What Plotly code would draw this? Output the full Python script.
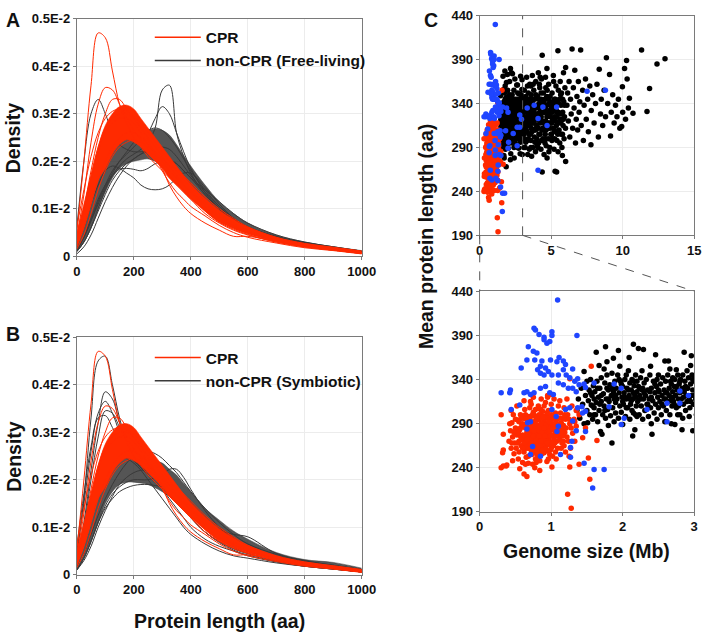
import plotly.graph_objects as go

# ---------------- Panels A & B : protein length density curves ----------------
# protein length grid (aa); densities below are in units of 1E-2
length_aa = [0, 25, 50, 75, 100, 125, 150, 175, 200, 225, 250, 275, 300, 325, 350,
             375, 400, 450, 500, 550, 600, 700, 800, 900, 1000]

# CPR genomes (same in A and B): core band (min / max) and individual curves
cpr_band_low = [0.02, 0.06, 0.11, 0.16, 0.185, 0.215, 0.235, 0.245, 0.24, 0.23, 0.215, 0.2, 0.185, 0.165, 0.15,
                0.135, 0.12, 0.095, 0.072, 0.058, 0.047, 0.031, 0.02, 0.013, 0.006]
cpr_band_high = [0.05, 0.11, 0.17, 0.23, 0.275, 0.3, 0.315, 0.318, 0.31, 0.29, 0.27, 0.25, 0.23, 0.21, 0.19,
                 0.17, 0.152, 0.122, 0.097, 0.078, 0.062, 0.04, 0.027, 0.019, 0.011]
cpr_curve_1 = [0.05, 0.2, 0.36, 0.47, 0.46, 0.39, 0.32, 0.28, 0.25, 0.23, 0.21, 0.195, 0.18, 0.165, 0.15,
               0.135, 0.12, 0.09, 0.07, 0.055, 0.045, 0.03, 0.02, 0.013, 0.006]
cpr_curve_2 = [0.04, 0.13, 0.24, 0.32, 0.355, 0.35, 0.32, 0.29, 0.265, 0.245, 0.225, 0.205, 0.19, 0.17, 0.155,
               0.14, 0.125, 0.095, 0.072, 0.057, 0.046, 0.03, 0.02, 0.013, 0.006]
cpr_curve_3 = [0.035, 0.1, 0.18, 0.25, 0.3, 0.33, 0.33, 0.31, 0.29, 0.27, 0.25, 0.23, 0.21, 0.19, 0.17,
               0.155, 0.14, 0.11, 0.085, 0.065, 0.05, 0.033, 0.022, 0.015, 0.008]
cpr_curve_4 = [0.04, 0.1, 0.17, 0.23, 0.27, 0.29, 0.3, 0.3, 0.29, 0.27, 0.245, 0.215, 0.185, 0.15, 0.125,
               0.105, 0.09, 0.07, 0.055, 0.042, 0.042, 0.032, 0.02, 0.013, 0.006]
cpr_curve_5 = [0.03, 0.09, 0.16, 0.22, 0.26, 0.28, 0.29, 0.29, 0.28, 0.26, 0.235, 0.21, 0.18, 0.155, 0.135,
               0.12, 0.105, 0.085, 0.065, 0.05, 0.04, 0.028, 0.018, 0.012, 0.005]
cpr_curve_6 = [0.02, 0.06, 0.11, 0.16, 0.2, 0.23, 0.25, 0.26, 0.26, 0.25, 0.235, 0.22, 0.205, 0.19, 0.185,
               0.17, 0.155, 0.125, 0.1, 0.08, 0.062, 0.04, 0.027, 0.019, 0.011]
cpr_curve_7 = [0.06, 0.14, 0.21, 0.26, 0.29, 0.305, 0.31, 0.305, 0.295, 0.28, 0.26, 0.24, 0.22, 0.2, 0.18,
               0.16, 0.145, 0.115, 0.09, 0.07, 0.055, 0.035, 0.023, 0.015, 0.007]
cpr_curve_8 = [0.015, 0.045, 0.09, 0.14, 0.18, 0.21, 0.23, 0.24, 0.245, 0.24, 0.23, 0.215, 0.2, 0.18, 0.165,
               0.15, 0.135, 0.105, 0.08, 0.063, 0.05, 0.033, 0.022, 0.015, 0.008]

# non-CPR free-living (panel A)
free_band_low = [0.01, 0.03, 0.06, 0.1, 0.135, 0.165, 0.185, 0.195, 0.2, 0.203, 0.205, 0.2, 0.195, 0.185, 0.17,
                 0.155, 0.14, 0.11, 0.085, 0.065, 0.05, 0.033, 0.022, 0.015, 0.008]
free_band_high = [0.03, 0.07, 0.12, 0.165, 0.2, 0.225, 0.24, 0.25, 0.255, 0.26, 0.265, 0.268, 0.265, 0.255, 0.235,
                  0.212, 0.19, 0.15, 0.115, 0.09, 0.07, 0.045, 0.03, 0.02, 0.012]
free_curve_1 = [0.01, 0.03, 0.06, 0.1, 0.14, 0.17, 0.19, 0.205, 0.215, 0.225, 0.24, 0.27, 0.35, 0.36, 0.26,
                0.21, 0.175, 0.13, 0.1, 0.075, 0.06, 0.04, 0.027, 0.018, 0.01]
free_curve_2 = [0.015, 0.04, 0.075, 0.115, 0.15, 0.18, 0.2, 0.215, 0.23, 0.245, 0.26, 0.29, 0.315, 0.3, 0.26,
                0.22, 0.185, 0.135, 0.1, 0.075, 0.06, 0.04, 0.027, 0.018, 0.01]
free_curve_3 = [0.06, 0.2, 0.3, 0.33, 0.3, 0.26, 0.235, 0.225, 0.22, 0.22, 0.22, 0.215, 0.205, 0.19, 0.175,
                0.16, 0.145, 0.115, 0.09, 0.07, 0.055, 0.035, 0.024, 0.016, 0.009]
free_curve_4 = [0.02, 0.06, 0.11, 0.15, 0.18, 0.19, 0.185, 0.175, 0.165, 0.15, 0.142, 0.14, 0.142, 0.15, 0.165,
                0.175, 0.175, 0.145, 0.11, 0.08, 0.06, 0.04, 0.027, 0.018, 0.01]
free_curve_5 = [0.01, 0.04, 0.08, 0.12, 0.15, 0.17, 0.183, 0.185, 0.183, 0.18, 0.185, 0.195, 0.2, 0.2, 0.195,
                0.18, 0.165, 0.13, 0.1, 0.075, 0.058, 0.038, 0.026, 0.017, 0.009]
free_curve_6 = [0.015, 0.04, 0.075, 0.11, 0.145, 0.175, 0.2, 0.22, 0.24, 0.255, 0.265, 0.27, 0.265, 0.25, 0.23,
                0.205, 0.18, 0.14, 0.105, 0.078, 0.06, 0.04, 0.027, 0.018, 0.01]
free_curve_7 = [0.005, 0.02, 0.045, 0.08, 0.115, 0.145, 0.17, 0.19, 0.205, 0.215, 0.225, 0.23, 0.23, 0.225, 0.21,
                0.19, 0.17, 0.135, 0.105, 0.08, 0.062, 0.042, 0.029, 0.02, 0.011]
free_curve_8 = [0.01, 0.03, 0.06, 0.095, 0.13, 0.16, 0.18, 0.195, 0.205, 0.215, 0.22, 0.22, 0.215, 0.205, 0.195,
                0.18, 0.165, 0.14, 0.115, 0.09, 0.07, 0.045, 0.03, 0.02, 0.011]

# non-CPR symbiotic (panel B)
symb_band_low = [0.01, 0.035, 0.07, 0.11, 0.15, 0.175, 0.19, 0.195, 0.195, 0.193, 0.19, 0.183, 0.175, 0.165, 0.155,
                 0.143, 0.13, 0.105, 0.085, 0.065, 0.05, 0.033, 0.022, 0.016, 0.009]
symb_band_high = [0.035, 0.08, 0.13, 0.175, 0.21, 0.23, 0.245, 0.25, 0.25, 0.248, 0.245, 0.24, 0.235, 0.222, 0.21,
                  0.192, 0.175, 0.14, 0.115, 0.092, 0.075, 0.047, 0.032, 0.026, 0.014]
symb_curve_1 = [0.04, 0.16, 0.33, 0.45, 0.46, 0.4, 0.33, 0.28, 0.25, 0.23, 0.21, 0.195, 0.18, 0.165, 0.15,
                0.135, 0.12, 0.09, 0.07, 0.055, 0.045, 0.03, 0.02, 0.013, 0.006]
symb_curve_2 = [0.03, 0.11, 0.22, 0.32, 0.385, 0.37, 0.32, 0.28, 0.25, 0.23, 0.21, 0.195, 0.18, 0.165, 0.15,
                0.135, 0.12, 0.09, 0.07, 0.055, 0.045, 0.03, 0.02, 0.013, 0.006]
symb_curve_3 = [0.05, 0.15, 0.26, 0.34, 0.365, 0.34, 0.3, 0.27, 0.245, 0.225, 0.21, 0.195, 0.18, 0.165, 0.15,
                0.135, 0.12, 0.09, 0.068, 0.052, 0.042, 0.028, 0.018, 0.012, 0.006]
symb_curve_4 = [0.03, 0.1, 0.2, 0.29, 0.345, 0.34, 0.31, 0.28, 0.26, 0.24, 0.225, 0.21, 0.195, 0.18, 0.165,
                0.15, 0.13, 0.1, 0.075, 0.058, 0.046, 0.03, 0.02, 0.013, 0.006]
symb_curve_5 = [0.06, 0.17, 0.27, 0.33, 0.335, 0.31, 0.28, 0.26, 0.24, 0.225, 0.21, 0.195, 0.18, 0.16, 0.14,
                0.12, 0.1, 0.075, 0.06, 0.05, 0.04, 0.027, 0.018, 0.012, 0.006]
symb_curve_6 = [0.01, 0.035, 0.07, 0.11, 0.145, 0.17, 0.185, 0.195, 0.2, 0.2, 0.2, 0.205, 0.21, 0.222, 0.222,
                0.205, 0.18, 0.135, 0.1, 0.075, 0.058, 0.04, 0.027, 0.018, 0.01]
symb_curve_7 = [0.01, 0.035, 0.07, 0.11, 0.14, 0.16, 0.175, 0.183, 0.188, 0.19, 0.19, 0.188, 0.185, 0.178, 0.17,
                0.16, 0.148, 0.12, 0.095, 0.075, 0.06, 0.04, 0.027, 0.018, 0.01]
symb_curve_8 = [0.01, 0.03, 0.06, 0.1, 0.135, 0.165, 0.19, 0.205, 0.215, 0.22, 0.22, 0.215, 0.205, 0.195, 0.18,
                0.165, 0.15, 0.12, 0.095, 0.085, 0.08, 0.045, 0.03, 0.02, 0.011]
symb_curve_9 = [0.03, 0.09, 0.16, 0.21, 0.24, 0.25, 0.25, 0.245, 0.235, 0.22, 0.2, 0.18, 0.16, 0.14, 0.12,
                0.1, 0.085, 0.065, 0.05, 0.04, 0.035, 0.025, 0.018, 0.012, 0.006]
symb_curve_10 = [0.015, 0.045, 0.085, 0.125, 0.16, 0.19, 0.215, 0.235, 0.25, 0.258, 0.26, 0.255, 0.245, 0.23, 0.215,
                 0.195, 0.175, 0.14, 0.11, 0.085, 0.065, 0.043, 0.029, 0.02, 0.011]

density_ticks = [0, 0.1, 0.2, 0.3, 0.4, 0.5]
density_ticktext = ["0", "0.1E-2", "0.2E-2", "0.3E-2", "0.4E-2", "0.5E-2"]
length_ticks = [0, 200, 400, 600, 800, 1000]

# ---------------- Panel C : genome size (Mb) vs mean protein length (aa) ----------------
cpr_points = [
    (0.41, 270), (0.43, 282), (0.44, 262), (0.45, 291), (0.46, 275), (0.47, 300), (0.48, 256), (0.49, 268),
    (0.42, 290), (0.46, 248), (0.5, 285), (0.44, 305),
    (0.51, 262), (0.52, 277), (0.53, 294), (0.54, 250), (0.55, 270), (0.56, 283), (0.57, 300), (0.58, 265),
    (0.59, 289), (0.52, 310), (0.55, 258), (0.57, 276), (0.6, 246), (0.53, 268), (0.58, 296), (0.51, 284),
    (0.61, 272), (0.62, 258), (0.63, 287), (0.64, 300), (0.65, 266), (0.66, 280), (0.67, 293), (0.68, 253),
    (0.69, 275), (0.7, 308), (0.62, 316), (0.64, 244), (0.66, 262), (0.68, 286), (0.61, 296), (0.63, 276),
    (0.67, 268), (0.69, 298), (0.65, 252), (0.7, 283),
    (0.71, 270), (0.72, 260), (0.73, 291), (0.74, 279), (0.75, 303), (0.76, 265), (0.77, 284), (0.78, 250),
    (0.79, 296), (0.8, 274), (0.72, 312), (0.74, 244), (0.75, 287), (0.76, 258), (0.77, 272), (0.78, 306),
    (0.79, 263), (0.73, 280), (0.71, 298), (0.8, 288), (0.75, 320), (0.77, 240),
    (0.81, 279), (0.82, 262), (0.83, 294), (0.84, 270), (0.85, 285), (0.86, 300), (0.87, 256), (0.88, 276),
    (0.89, 290), (0.9, 266), (0.82, 310), (0.84, 248), (0.85, 273), (0.86, 262), (0.87, 289), (0.88, 304),
    (0.89, 281), (0.83, 282), (0.81, 295), (0.9, 278), (0.86, 318), (0.84, 237), (0.88, 268), (0.82, 275),
    (0.91, 284), (0.92, 271), (0.93, 296), (0.94, 259), (0.95, 280), (0.96, 305), (0.97, 268), (0.98, 290),
    (0.99, 277), (1.0, 262), (0.92, 314), (0.94, 247), (0.95, 288), (0.96, 274), (0.97, 298), (0.98, 255),
    (0.93, 283), (0.91, 266), (1.0, 300), (0.99, 285), (0.95, 322),
    (1.01, 276), (1.02, 290), (1.03, 265), (1.04, 300), (1.05, 281), (1.06, 258), (1.07, 293), (1.08, 270),
    (1.09, 285), (1.1, 310), (1.02, 253), (1.04, 318), (1.06, 279), (1.08, 296), (1.03, 286), (1.05, 268),
    (1.1, 276), (1.07, 250),
    (1.11, 288), (1.12, 272), (1.13, 302), (1.14, 262), (1.15, 283), (1.16, 296), (1.17, 270), (1.18, 308),
    (1.19, 280), (1.2, 258), (1.12, 316), (1.14, 291), (1.16, 276), (1.18, 265), (1.2, 295),
    (1.21, 285), (1.23, 300), (1.24, 270), (1.26, 290), (1.27, 262), (1.29, 310), (1.3, 279), (1.32, 295),
    (1.22, 318), (1.25, 253), (1.28, 285), (1.33, 270), (1.35, 305),
    (0.72, 283), (0.74, 268), (0.76, 292), (0.78, 277), (0.8, 262), (0.82, 288), (0.84, 296), (0.86, 276),
    (0.88, 284), (0.9, 292), (0.92, 262), (0.94, 276), (0.96, 286), (0.98, 270), (0.7, 265), (0.73, 274),
    (0.77, 299), (0.79, 285), (0.81, 268), (0.83, 258), (0.85, 265), (0.87, 280), (0.89, 272), (0.91, 298),
    (0.93, 270), (0.97, 280), (0.99, 294), (0.79, 272), (0.83, 300), (0.87, 296), (0.71, 286), (0.75, 276),
    (0.85, 306), (0.9, 257), (0.96, 266), (1.01, 296), (1.04, 272), (0.68, 278), (0.64, 285), (0.6, 277),
    (0.57, 285), (0.55, 292), (0.63, 264), (0.94, 290), (0.8, 255),
    (0.58, 272), (0.6, 290), (0.62, 268), (0.65, 295), (0.67, 281), (0.69, 262), (0.72, 292), (0.73, 255),
    (0.76, 282), (0.78, 290), (0.8, 296), (0.81, 258), (0.83, 276), (0.84, 286), (0.86, 270), (0.88, 260),
    (0.89, 298), (0.91, 276), (0.92, 288), (0.93, 260), (0.95, 268), (0.97, 292), (0.98, 282), (1.0, 276),
    (1.02, 268), (1.03, 296), (1.05, 290), (1.07, 276), (1.09, 262), (1.11, 296), (1.13, 280), (1.15, 268),
    (1.17, 288), (1.19, 300), (0.6, 262), (0.66, 272), (0.7, 296), (0.74, 300), (0.77, 262), (0.82, 252),
    (0.86, 290), (0.9, 285), (0.94, 302), (0.99, 260), (1.01, 284), (1.06, 302), (0.54, 280), (0.48, 280),
    (0.5, 295), (0.45, 268), (0.63, 306), (0.71, 315), (0.9, 310), (1.0, 312), (1.13, 290), (1.22, 275),
    (1.25, 295), (0.68, 245), (0.79, 246), (0.96, 250),
    (0.3, 300), (0.32, 257), (0.33, 260), (0.3, 240), (0.37, 242), (0.33, 278), (0.95, 320), (1.0, 323),
    (1.26, 341), (1.56, 355), (1.28, 194), (1.23, 210), (1.54, 227), (1.52, 251), (1.39, 244), (1.26, 241),
    (1.01, 241), (0.56, 239), (0.62, 233), (0.66, 230), (0.33, 242), (0.38, 243), (1.48, 285), (1.64, 271),
    (1.44, 274), (1.35, 287), (1.39, 300), (1.33, 292),
]

symbiotic_points = [
    (1.09, 430), (0.76, 398), (0.78, 396), (0.83, 391), (0.9, 388), (0.9, 385), (1.01, 394), (1.01, 390),
    (0.98, 383), (0.94, 381), (1.36, 390), (0.68, 377), (0.75, 372), (0.8, 370), (0.66, 362), (0.77, 362),
    (0.87, 361), (0.99, 362), (1.11, 365), (1.08, 360), (1.17, 361), (1.2, 357), (1.3, 352), (0.58, 353),
    (0.85, 355), (0.92, 353), (0.96, 349), (0.85, 347), (0.81, 351), (0.9, 345), (1.01, 345), (1.1, 345),
    (1.17, 351), (1.21, 345), (1.26, 342), (1.33, 338), (1.37, 341), (1.39, 334), (1.46, 335), (1.48, 331),
    (1.6, 336), (0.3, 325), (0.43, 328), (0.42, 325), (0.62, 325), (0.66, 326), (0.71, 323), (0.76, 325),
    (0.85, 330), (0.92, 332), (0.98, 325), (1.03, 323), (1.17, 334), (1.24, 330), (1.3, 330), (1.35, 326),
    (1.1, 336), (0.44, 306), (0.56, 311), (0.71, 292), (0.66, 284), (0.67, 291), (1.07, 298), (1.01, 306),
    (1.2, 306), (1.26, 308), (1.37, 308), (1.43, 309), (1.48, 304), (1.44, 302), (1.48, 281), (1.1, 287),
    (1.08, 281), (1.3, 293), (1.35, 282), (0.74, 264), (0.71, 255), (0.85, 253), (1.13, 255), (1.27, 252),
    (1.29, 270), (1.27, 263), (1.46, 245), (1.6, 238), (1.74, 238), (1.58, 217),
    (1.88, 335), (1.98, 330), (1.98, 289), (2.34, 306), (2.62, 313), (2.62, 292), (2.8, 313), (2.92, 322),
    (1.81, 309), (7.51, 354), (8.79, 355), (4.42, 336), (3.32, 335), (4.08, 323), (5.38, 336), (4.71, 315),
    (4.08, 264), (2.02, 296), (2.8, 327), (3.81, 338),
]

free_living_points = [
    (1.36, 305), (1.38, 318), (1.4, 296), (1.42, 330), (1.44, 312), (1.46, 349), (1.46, 290), (1.48, 322),
    (1.5, 305), (1.5, 338), (1.51, 291),
    (1.52, 316), (1.53, 328), (1.54, 300), (1.55, 340), (1.56, 311), (1.57, 322), (1.58, 295), (1.59, 333),
    (1.6, 308), (1.6, 318),
    (1.61, 326), (1.62, 300), (1.63, 371), (1.63, 314), (1.64, 338), (1.65, 292), (1.66, 320), (1.67, 356),
    (1.67, 305), (1.68, 330), (1.69, 281), (1.7, 315), (1.71, 278), (1.7, 342),
    (1.72, 300), (1.73, 324), (1.74, 310), (1.75, 336), (1.76, 377), (1.76, 296), (1.77, 318), (1.78, 345),
    (1.79, 306), (1.8, 328), (1.8, 288), (1.78, 360), (1.74, 352),
    (1.81, 315), (1.82, 334), (1.83, 299), (1.84, 322), (1.85, 268), (1.85, 347), (1.86, 308), (1.87, 364),
    (1.87, 326), (1.88, 292), (1.89, 338), (1.9, 314), (1.9, 302),
    (1.91, 330), (1.92, 318), (1.93, 345), (1.94, 373), (1.94, 296), (1.95, 325), (1.96, 310), (1.97, 338),
    (1.98, 303), (1.99, 320), (2.0, 289), (2.0, 332), (1.96, 355),
    (2.01, 312), (2.02, 325), (2.03, 340), (2.04, 298), (2.05, 318), (2.06, 330), (2.07, 308), (2.08, 350),
    (2.09, 365), (2.09, 322), (2.1, 295), (2.1, 336), (2.05, 308), (2.03, 320),
    (2.11, 312), (2.12, 328), (2.13, 340), (2.14, 276), (2.14, 318), (2.15, 380), (2.15, 302), (2.16, 333),
    (2.17, 283), (2.17, 322), (2.18, 345), (2.19, 310), (2.2, 326), (2.2, 298), (2.12, 316), (2.16, 338),
    (2.18, 320), (2.13, 305),
    (2.21, 315), (2.22, 375), (2.22, 332), (2.23, 300), (2.24, 322), (2.25, 342), (2.26, 310), (2.27, 328),
    (2.28, 295), (2.29, 374), (2.29, 318), (2.3, 336), (2.24, 330), (2.27, 350),
    (2.31, 305), (2.32, 322), (2.33, 340), (2.34, 312), (2.35, 328), (2.36, 298), (2.37, 318), (2.38, 345),
    (2.39, 355), (2.39, 308), (2.4, 330), (2.4, 290),
    (2.41, 278), (2.42, 316), (2.43, 338), (2.44, 302), (2.45, 325), (2.46, 368), (2.46, 312), (2.47, 332),
    (2.48, 295), (2.49, 320), (2.5, 345), (2.5, 308),
    (2.51, 326), (2.52, 315), (2.53, 335), (2.54, 300), (2.55, 322), (2.56, 342), (2.57, 310), (2.58, 328),
    (2.59, 361), (2.59, 292), (2.6, 318), (2.6, 338),
    (2.61, 305), (2.62, 325), (2.63, 345), (2.64, 361), (2.64, 315), (2.65, 330), (2.66, 300), (2.67, 338),
    (2.68, 320), (2.69, 310), (2.7, 342), (2.7, 326), (2.66, 352), (2.68, 290),
    (2.71, 315), (2.72, 332), (2.73, 289), (2.73, 340), (2.74, 322), (2.75, 351), (2.75, 308), (2.76, 328),
    (2.77, 345), (2.78, 318), (2.79, 335), (2.8, 300), (2.8, 325), (2.72, 312), (2.77, 300),
    (2.81, 340), (2.82, 318), (2.83, 283), (2.83, 330), (2.84, 345), (2.85, 312), (2.86, 371), (2.86, 326),
    (2.87, 338), (2.88, 305), (2.89, 322), (2.9, 350), (2.9, 315), (2.84, 296),
    (2.91, 330), (2.92, 342), (2.93, 318), (2.94, 308), (2.95, 335), (2.96, 367), (2.96, 322), (2.97, 345),
    (2.98, 282), (2.98, 328), (2.99, 312), (3.0, 338), (2.93, 298), (2.95, 356),
    (1.55, 325), (1.6, 300), (1.65, 330), (1.7, 322), (1.75, 305), (1.8, 318), (1.85, 330), (1.9, 322),
    (1.95, 340), (2.0, 315), (2.05, 345), (2.1, 318), (2.15, 325), (2.2, 338), (2.25, 318), (2.3, 325),
    (2.35, 312), (2.4, 320), (2.45, 335), (2.5, 328), (2.55, 312), (2.6, 325), (2.65, 322), (2.7, 318),
    (2.75, 332), (2.8, 338), (2.85, 320), (2.9, 330), (2.95, 315), (3.0, 322), (1.58, 310), (1.68, 312),
    (1.78, 330), (1.88, 318), (1.98, 335), (2.08, 328), (2.18, 300), (2.28, 330), (2.38, 326), (2.48, 340),
    (2.58, 318), (2.68, 335), (2.78, 310), (2.88, 332), (2.98, 340),
    (3.05, 325), (3.08, 340), (3.1, 305), (3.12, 355), (3.15, 318), (3.18, 290), (3.2, 332), (3.22, 348),
    (3.25, 310), (3.28, 370), (3.3, 325), (3.32, 298), (3.35, 340), (3.36, 282), (3.38, 315), (3.4, 352),
    (3.42, 330), (3.45, 305), (3.48, 322), (3.5, 362), (3.12, 312), (3.22, 296), (3.33, 335), (3.44, 345),
    (3.03, 300), (3.47, 288),
    (3.52, 315), (3.55, 335), (3.58, 298), (3.6, 350), (3.62, 325), (3.65, 308), (3.68, 372), (3.7, 340),
    (3.72, 290), (3.75, 318), (3.78, 355), (3.8, 330), (3.82, 302), (3.85, 345), (3.88, 322), (3.9, 285),
    (3.92, 365), (3.95, 312), (3.98, 338), (4.0, 300), (3.57, 360), (3.66, 328), (3.77, 310), (3.86, 296),
    (3.93, 350), (3.63, 280), (3.73, 332),
    (4.02, 328), (4.05, 348), (4.08, 312), (4.1, 375), (4.12, 295), (4.15, 335), (4.18, 320), (4.2, 358),
    (4.22, 305), (4.25, 342), (4.28, 288), (4.3, 325), (4.32, 368), (4.35, 310), (4.37, 262), (4.37, 395),
    (4.4, 338), (4.42, 300), (4.45, 352), (4.48, 318), (4.5, 282), (4.07, 290), (4.17, 362), (4.27, 330),
    (4.46, 310), (4.13, 345), (4.33, 298),
    (4.52, 330), (4.55, 345), (4.58, 305), (4.6, 370), (4.62, 320), (4.65, 292), (4.68, 338), (4.71, 278),
    (4.72, 355), (4.75, 312), (4.78, 328), (4.8, 300), (4.82, 362), (4.85, 340), (4.88, 318), (4.9, 290),
    (4.92, 348), (4.95, 325), (4.98, 305), (5.0, 335), (4.6, 315), (4.84, 285), (4.7, 380),
    (5.03, 318), (5.06, 352), (5.1, 300), (5.12, 338), (5.15, 372), (5.18, 312), (5.2, 288), (5.22, 345),
    (5.25, 325), (5.27, 263), (5.3, 308), (5.33, 360), (5.35, 332), (5.38, 262), (5.4, 298), (5.42, 342),
    (5.45, 318), (5.47, 400), (5.48, 285), (5.5, 355), (5.08, 330), (5.28, 320),
    (5.52, 328), (5.55, 310), (5.58, 345), (5.6, 295), (5.63, 365), (5.65, 322), (5.68, 338), (5.7, 305),
    (5.72, 352), (5.75, 290), (5.78, 281), (5.8, 330), (5.83, 315), (5.86, 375), (5.88, 342), (5.9, 300),
    (5.93, 325), (5.96, 358), (6.0, 312), (6.01, 274), (6.01, 381), (5.62, 318),
    (3.1, 330), (3.3, 315), (3.5, 330), (3.7, 320), (3.9, 335), (4.1, 322), (4.3, 345), (4.5, 330),
    (4.7, 325), (4.9, 332), (5.1, 322), (5.3, 340), (5.5, 330), (5.7, 320), (3.2, 345), (3.6, 340),
    (4.0, 315), (4.4, 320), (4.8, 345), (5.2, 310), (3.4, 300), (3.8, 310), (4.2, 330), (4.6, 300),
    (5.0, 318), (5.4, 325), (5.8, 345), (3.15, 338), (3.55, 305), (3.95, 325),
    (3.02, 318), (3.07, 332), (3.13, 300), (3.17, 345), (3.21, 322), (3.26, 338), (3.31, 308), (3.37, 328),
    (3.41, 318), (3.46, 338), (3.51, 345), (3.56, 322), (3.61, 312), (3.67, 345), (3.71, 328), (3.76, 338),
    (3.81, 318), (3.87, 335), (3.91, 310), (3.97, 348), (4.03, 338), (4.09, 328), (4.14, 305), (4.19, 340),
    (4.24, 318), (4.29, 352), (4.34, 330), (4.39, 312), (4.44, 338), (4.49, 342), (4.54, 318), (4.59, 335),
    (4.64, 310), (4.69, 348), (4.74, 330), (4.79, 318), (4.86, 328), (4.91, 312), (4.96, 342), (5.02, 305),
    (5.07, 340), (5.13, 322), (5.19, 332), (5.24, 300), (5.29, 345), (5.36, 315), (5.41, 330), (5.46, 305),
    (5.53, 340), (5.59, 320), (5.66, 350), (5.73, 328), (5.79, 305), (5.85, 322), (5.92, 338), (3.09, 290),
    (3.58, 290), (4.02, 292), (4.56, 295), (5.05, 298), (3.34, 360), (3.74, 362), (4.23, 370), (4.62, 358),
    (5.17, 365),
    (6.1, 338), (6.15, 352), (6.2, 320), (6.25, 365), (6.3, 302), (6.35, 345), (6.4, 328), (6.46, 402),
    (6.5, 312), (6.55, 358), (6.6, 335), (6.65, 378), (6.7, 295), (6.75, 322), (6.8, 348), (6.85, 310),
    (6.9, 365), (6.95, 330), (7.06, 401), (7.0, 342), (7.1, 315), (7.2, 355), (7.25, 298), (7.3, 338),
    (7.4, 368), (7.45, 322), (7.55, 345), (7.6, 308), (7.7, 360), (7.78, 293), (7.8, 332), (7.9, 350),
    (8.0, 318), (8.1, 340), (8.2, 362), (8.3, 302), (8.36, 379), (8.45, 328), (8.5, 345), (8.6, 315),
    (8.7, 355), (8.86, 392), (8.8, 325), (8.95, 340), (9.08, 373), (9.15, 303), (9.2, 330), (9.3, 350),
    (9.4, 318), (9.5, 338), (9.6, 325), (9.7, 345), (9.8, 312), (9.98, 359), (10.13, 380), (10.0, 330),
    (10.27, 389), (10.31, 368), (10.4, 335), (10.47, 346), (10.72, 329), (9.93, 314), (10.2, 322),
    (11.32, 401), (11.7, 331), (11.88, 357), (12.4, 385), (12.96, 391),
]

aa_ticks = [190, 240, 290, 340, 390, 440]
genome_ticks_full = [0, 5, 10, 15]
genome_ticks_zoom = [0, 1, 2, 3]
zoom_limit_mb = 3

# ---------------- styling / layout ----------------
RED = "#ff2a00"
DARK = "#3a3a3a"
BAND_DARK = "rgba(55,55,55,0.85)"
BLUE = "#1f45ff"
FONT = "Liberation Sans Narrow, Arial Narrow, Liberation Sans, Arial, sans-serif"
W, H = 715, 637
# the captured picture shows the page slightly inset and shrunk; positions below are
# given in picture pixels and converted back to page pixels with this correction
SX, BX, SY, BY = 0.975, 4.2, 0.978, 8.3


def page_x(p):
    return (p - BX) / SX


def page_y(p):
    return (p - BY) / SY


def px_x(p):  # picture pixel -> paper fraction
    return min(max(page_x(p) / W, 0.0), 1.0)


def px_y(p):
    return min(max(1 - page_y(p) / H, 0.0), 1.0)


dom_A_x = [px_x(77), px_x(362)]
dom_A_y = [px_y(258), px_y(20)]
dom_B_y = [px_y(577), px_y(339)]
dom_C_x = [px_x(480), min(px_x(702), 708 / W)]
dom_C1_y = [px_y(237), px_y(17)]
dom_C2_y = [px_y(514), px_y(293)]

fig = go.Figure()


def add_band(low, high, color, xa, ya):
    fig.add_trace(go.Scatter(x=length_aa, y=low, mode="lines", line=dict(width=0.6, color=color, shape="spline"),
                             xaxis=xa, yaxis=ya, showlegend=False, hoverinfo="skip"))
    fig.add_trace(go.Scatter(x=length_aa, y=high, mode="lines", line=dict(width=0.6, color=color, shape="spline"),
                             fill="tonexty", fillcolor=color, xaxis=xa, yaxis=ya, showlegend=False,
                             hoverinfo="skip"))


def add_curves(curves, color, xa, ya):
    for c in curves:
        fig.add_trace(go.Scatter(x=length_aa, y=c, mode="lines",
                                 line=dict(width=1, color=color, shape="spline"),
                                 xaxis=xa, yaxis=ya, showlegend=False, hoverinfo="skip"))


def add_legend_entry(name, color, xa, ya, legend):
    fig.add_trace(go.Scatter(x=[None], y=[None], mode="lines", line=dict(width=1.5, color=color),
                             name=name, xaxis=xa, yaxis=ya, legend=legend, showlegend=True))


cpr_curves = [cpr_curve_1, cpr_curve_2, cpr_curve_3, cpr_curve_4, cpr_curve_5, cpr_curve_6, cpr_curve_7,
              cpr_curve_8]
free_curves = [free_curve_1, free_curve_2, free_curve_3, free_curve_4, free_curve_5, free_curve_6, free_curve_7,
               free_curve_8]
symb_curves = [symb_curve_1, symb_curve_2, symb_curve_3, symb_curve_4, symb_curve_5, symb_curve_6, symb_curve_7,
               symb_curve_8, symb_curve_9, symb_curve_10]

# Panel A
add_band(free_band_low, free_band_high, BAND_DARK, "x", "y")
add_curves(free_curves, DARK, "x", "y")
add_band(cpr_band_low, cpr_band_high, RED, "x", "y")
add_curves(cpr_curves, RED, "x", "y")
add_legend_entry("CPR", RED, "x", "y", "legend")
add_legend_entry("non-CPR (Free-living)", DARK, "x", "y", "legend")
# Panel B
add_band(symb_band_low, symb_band_high, BAND_DARK, "x2", "y2")
add_curves(symb_curves, DARK, "x2", "y2")
add_band(cpr_band_low, cpr_band_high, RED, "x2", "y2")
add_curves(cpr_curves, RED, "x2", "y2")
add_legend_entry("CPR", RED, "x2", "y2", "legend2")
add_legend_entry("non-CPR (Symbiotic)", DARK, "x2", "y2", "legend2")

# Panel C (full range and zoom of 0-3 Mb)
for xa, ya in (("x3", "y3"), ("x4", "y4")):
    for pts, col in ((free_living_points, "#000000"), (cpr_points, RED), (symbiotic_points, BLUE)):
        fig.add_trace(go.Scatter(x=[p[0] for p in pts], y=[p[1] for p in pts], mode="markers",
                                 marker=dict(size=5.5, color=col, line=dict(width=0)),
                                 xaxis=xa, yaxis=ya, showlegend=False, hoverinfo="skip"))

tickfont = dict(family=FONT, size=13, color="#111", weight="bold")
axis_common = dict(showline=True, mirror=True, linecolor="#7a7a7a", linewidth=1, showgrid=True,
                   gridcolor="#ececec", gridwidth=1, zeroline=False, ticks="outside", ticklen=3,
                   tickcolor="#7a7a7a", tickfont=tickfont, fixedrange=True)
legend_font = dict(family=FONT, size=15.5, color="#111", weight="bold")

fig.update_layout(
    width=W, height=H, margin=dict(l=0, r=0, t=0, b=0),
    paper_bgcolor="white", plot_bgcolor="white",
    xaxis=dict(domain=dom_A_x, range=[0, 1000], tickvals=length_ticks, anchor="y", **axis_common),
    yaxis=dict(domain=dom_A_y, range=[0, 0.5], tickvals=density_ticks, ticktext=density_ticktext,
               anchor="x", **axis_common),
    xaxis2=dict(domain=dom_A_x, range=[0, 1000], tickvals=length_ticks, anchor="y2", **axis_common),
    yaxis2=dict(domain=dom_B_y, range=[0, 0.5], tickvals=density_ticks, ticktext=density_ticktext,
                anchor="x2", **axis_common),
    xaxis3=dict(domain=dom_C_x, range=[0, 15], tickvals=genome_ticks_full, anchor="y3", **axis_common),
    yaxis3=dict(domain=dom_C1_y, range=[190, 440], tickvals=aa_ticks, anchor="x3", **axis_common),
    xaxis4=dict(domain=dom_C_x, range=[0, 3], tickvals=genome_ticks_zoom, anchor="y4", **axis_common),
    yaxis4=dict(domain=dom_C2_y, range=[190, 440], tickvals=aa_ticks, anchor="x4", **axis_common),
    legend=dict(x=px_x(150), y=1 - 14 / H, xanchor="left", yanchor="top", bgcolor="rgba(0,0,0,0)",
                font=legend_font, tracegroupgap=0, traceorder="normal", itemwidth=46),
    legend2=dict(x=px_x(150), y=1 - 342 / H, xanchor="left", yanchor="top", bgcolor="rgba(0,0,0,0)",
                 font=legend_font, tracegroupgap=0, traceorder="normal", itemwidth=46),
)

# dashed zoom guides in panel C
zoom_frac = zoom_limit_mb / 15
fig.add_shape(type="line", xref="x3", yref="y3", x0=zoom_limit_mb, x1=zoom_limit_mb, y0=190, y1=440,
              line=dict(color="#555", width=1, dash="dash"))
fig.add_shape(type="line", xref="paper", yref="paper",
              x0=dom_C_x[0] + zoom_frac * (dom_C_x[1] - dom_C_x[0]), y0=dom_C1_y[0],
              x1=dom_C_x[1], y1=dom_C2_y[1], line=dict(color="#555", width=1, dash="dash"))
fig.add_shape(type="line", xref="paper", yref="paper", x0=dom_C_x[0], y0=dom_C1_y[0],
              x1=dom_C_x[0], y1=dom_C2_y[1], line=dict(color="#555", width=1, dash="dash"))

title_font = dict(family=FONT, size=19.5, color="#111", weight="bold")
letter_font = dict(family="Liberation Sans, Arial, sans-serif", size=19.5, color="#111", weight="bold")
ann = [
    dict(text="A", x=0, y=1, xanchor="left", yanchor="top", font=letter_font),
    dict(text="B", x=0, y=px_y(336), xanchor="left", yanchor="middle", font=letter_font),
    dict(text="C", x=px_x(431), y=1, xanchor="center", yanchor="top", font=letter_font),
    dict(text="Density", x=px_x(14), y=sum(dom_A_y) / 2, textangle=-90, font=title_font),
    dict(text="Density", x=px_x(14), y=sum(dom_B_y) / 2, textangle=-90, font=title_font),
    dict(text="Protein length (aa)", x=sum(dom_A_x) / 2, y=px_y(623), font=title_font),
    dict(text="Mean protein length (aa)", x=px_x(427), y=px_y(238), textangle=-90, font=title_font),
    dict(text="Genome size (Mb)", x=sum(dom_C_x) / 2, y=px_y(553), font=title_font),
]
for a in ann:
    a.setdefault("xanchor", "center")
    a.setdefault("yanchor", "middle")
    fig.add_annotation(xref="paper", yref="paper", showarrow=False, **a)

fig.write_html("out.html", config={"displayModeBar": False},
               post_script="document.body.style.margin='0';document.documentElement.style.overflow='hidden';")
